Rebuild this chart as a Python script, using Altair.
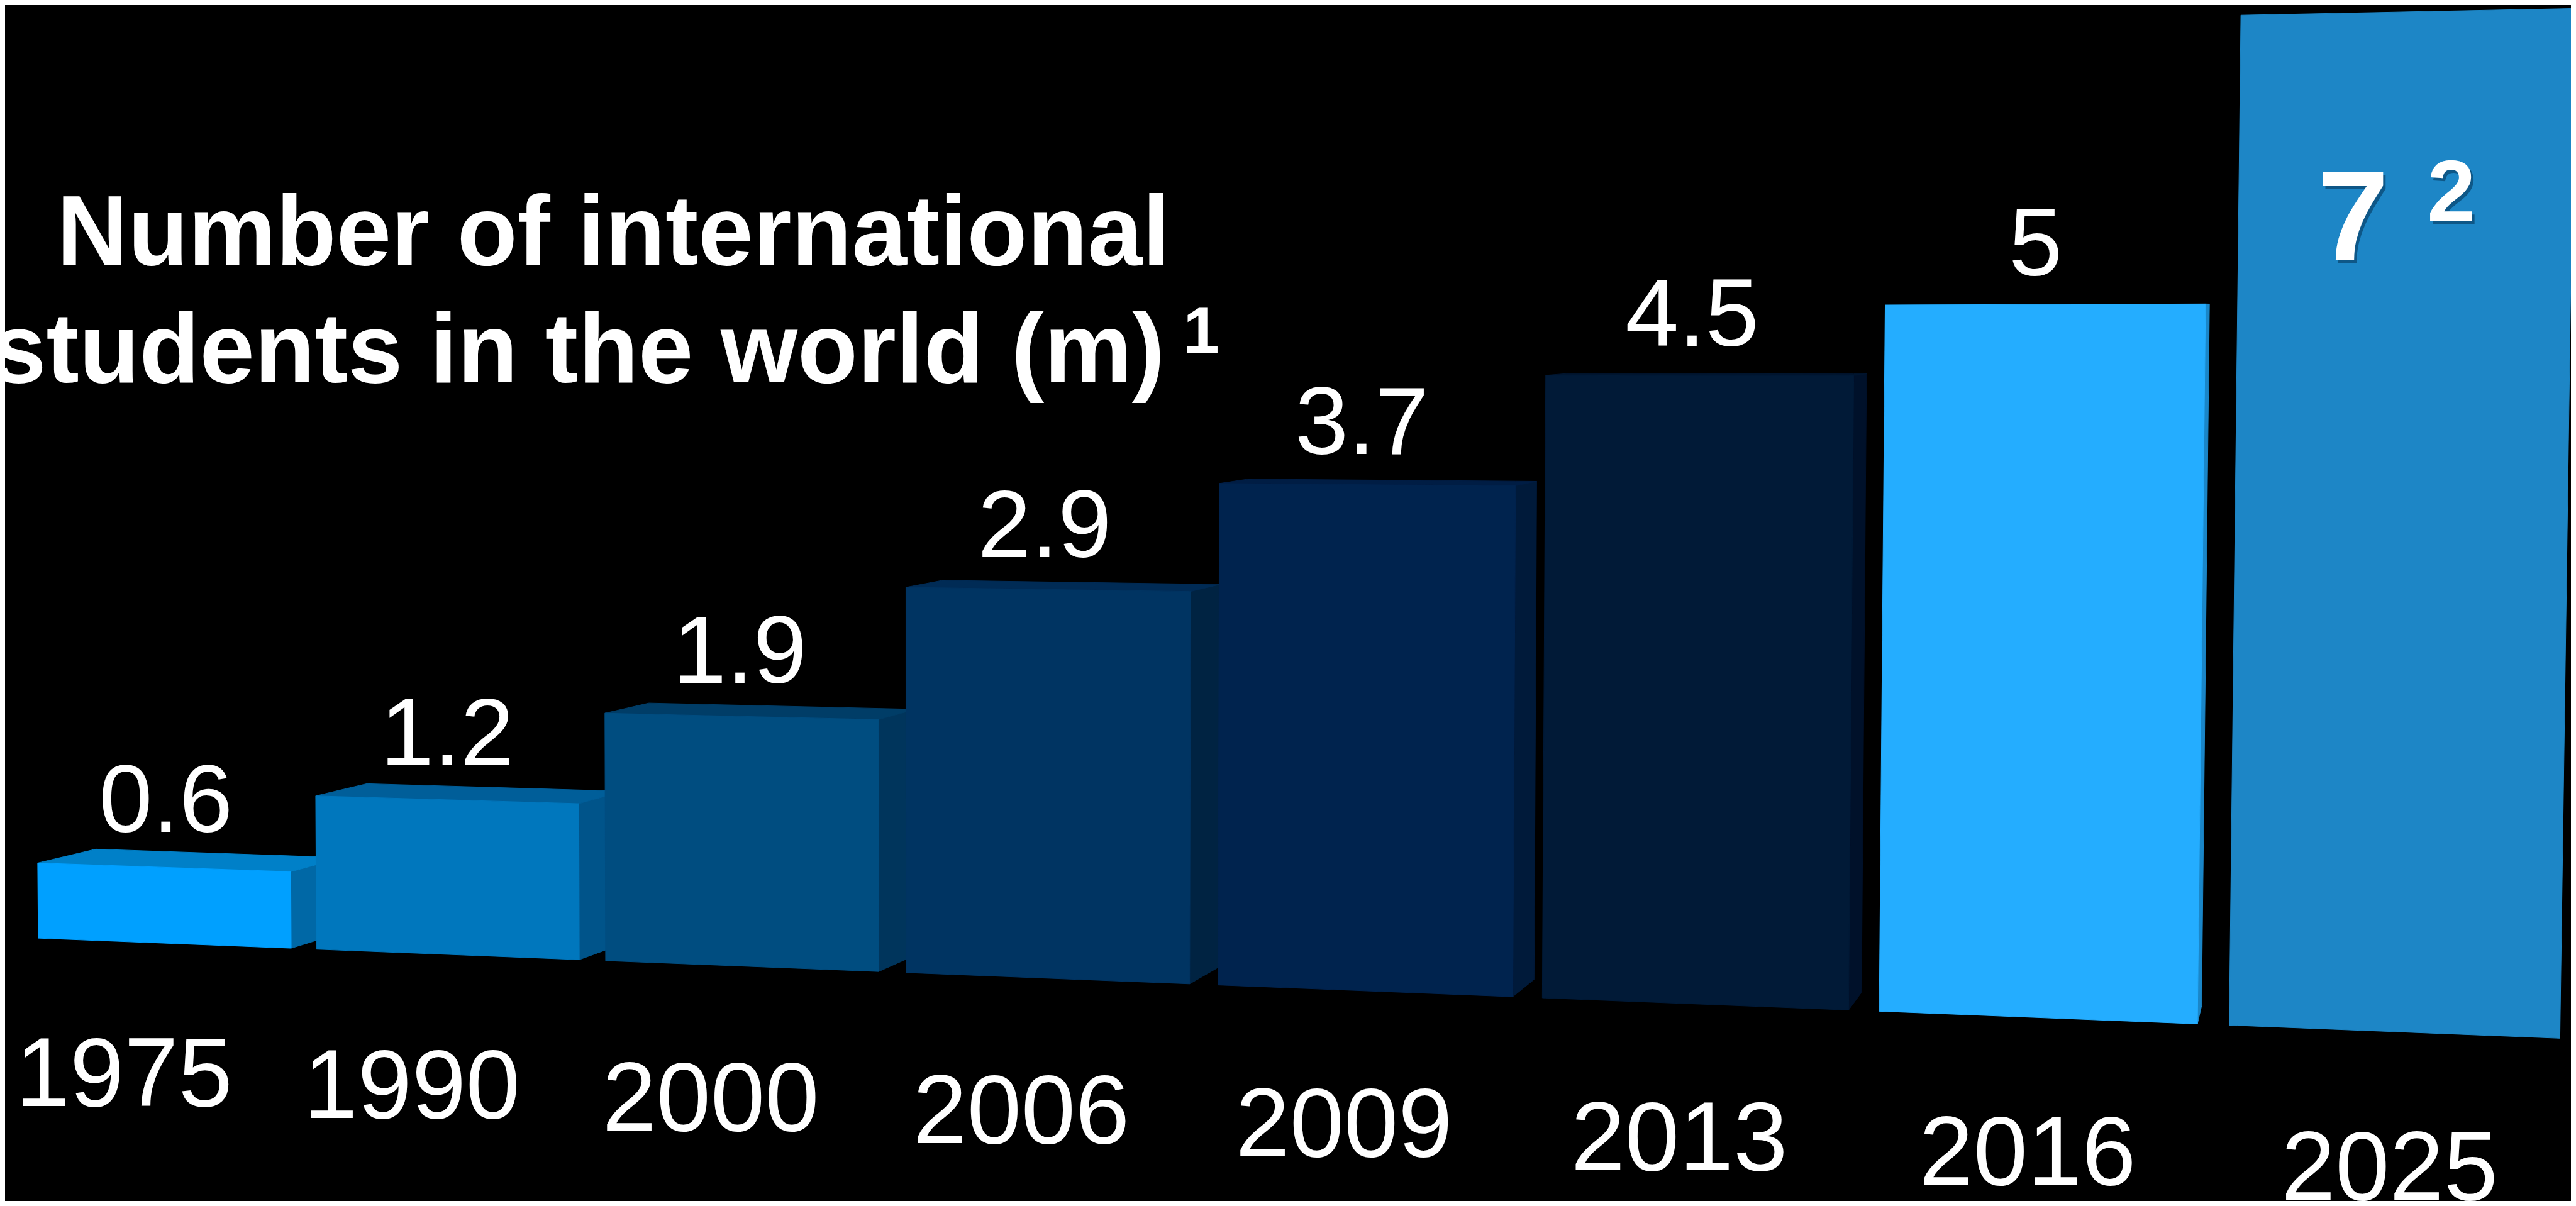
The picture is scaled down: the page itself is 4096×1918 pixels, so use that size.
import altair as alt
import pandas as pd

# ---------------- data ----------------
years = ["1975", "1990", "2000", "2006", "2009", "2013", "2016", "2025"]
values = [0.6, 1.2, 1.9, 2.9, 3.7, 4.5, 5.0, 7.0]
front_colors = ["#00A0FF", "#0077BD", "#004D80", "#003462", "#00234E", "#011A37", "#24ADFF", "#1D86C6"]
top_colors = ["#0080C8", "#005E99", "#003D67", "#002B55", "#001D44", "#00152F", "#1E95DD", "#186FA6"]
side_colors = ["#0068A6", "#00548A", "#00355C", "#002342", "#001A3A", "#00112A", "#1A86C8", "#16679A"]
highlight = [False, False, False, False, False, False, False, True]
value_notes = ["", "", "", "", "", "", "", "2"]
title_lines = ["Number of international", "students in the world (m)"]
title_note = "1"

# ---------------- page / scene layout ----------------
S = 0.981            # drawing scale
PAGE = 8             # page margin
W, H = 4080, 1902    # chart size
FONT = "Liberation Sans"

X0, STEP0, GROW, W0 = 62.0, 451.0, 1.039, 410.0       # perspective spacing of the bars
FLOOR_Y0, FLOOR_SLOPE = 1521.0, 0.0397                 # front floor line
K0, K_SLOPE = 203.3, 0.008615                          # pixels per million, growing with depth
LEAN_X0, LEAN_D = 1500.0, 184000.0                     # slight lean of vertical edges
VPX, VPY, DEPTH = 3830.0, 500.0, 0.025                 # vanishing point and bar depth


def floor_y(x):
    return FLOOR_Y0 + FLOOR_SLOPE * (x - X0)


def px_per_unit(x):
    return K0 + K_SLOPE * (x - X0)


def lift(x, v):
    h = v * px_per_unit(x)
    return (x + (x - LEAN_X0) / LEAN_D * h, floor_y(x) - h)


def recede(p):
    return (p[0] + (VPX - p[0]) * DEPTH, p[1] + (VPY - p[1]) * DEPTH)


def polygon_to_area(pts):
    xs = sorted(set(p[0] for p in pts))
    n = len(pts)
    out = []
    for x in xs:
        ys = []
        for j in range(n):
            (ax, ay), (bx, by) = pts[j], pts[(j + 1) % n]
            lo, hi = min(ax, bx), max(ax, bx)
            if lo - 1e-6 <= x <= hi + 1e-6:
                if abs(bx - ax) < 1e-9:
                    ys += [ay, by]
                else:
                    t = min(max((x - ax) / (bx - ax), 0.0), 1.0)
                    ys.append(ay + t * (by - ay))
        out.append((x, min(ys), max(ys)))
    return out


face_rows, val_rows, hi_rows, note_rows, year_rows = [], [], [], [], []
for i, (yr, v) in enumerate(zip(years, values)):
    xl = X0 + STEP0 * (GROW ** i - 1) / (GROW - 1)
    xr = xl + W0 * GROW ** i
    bl, br = (xl, floor_y(xl)), (xr, floor_y(xr))
    tl, tr = lift(xl, v), lift(xr, v)
    faces = []
    if VPX > xr:
        faces.append(("0", side_colors[i], [tr, br, recede(br), recede(tr)]))
    if VPY < min(tl[1], tr[1]):
        faces.append(("1", top_colors[i], [tl, tr, recede(tr), recede(tl)]))
    faces.append(("2", front_colors[i], [bl, br, tr, tl]))
    for f, col, poly in faces:
        for x, ylo, yhi in polygon_to_area(poly):
            face_rows.append({"key": f"{i}{f}", "col": col, "x": x, "y": ylo, "y2": yhi})

    cx, cy = (tl[0] + tr[0]) / 2, (tl[1] + tr[1]) / 2
    label = f"{v:g}"
    if highlight[i]:
        lx = tl[0] + 0.336 * (tr[0] - tl[0])
        ly = cy + 403
        hi_rows.append({"x": lx, "y": ly, "text": label})
        note_rows.append({"x": lx + 120, "y": ly - 63, "text": value_notes[i]})
    else:
        lx = cx - 0.006 * (cx - 700)
        ly = cy - (47 + 0.011 * (cy - 500))
        val_rows.append({"x": lx, "y": ly, "text": label})

    bc = (bl[0] + br[0]) / 2
    yx = bc - 66 + 0.016 * (bc - 267)
    year_rows.append({"x": yx, "y": 1793 + 0.0414 * (yx - 201), "text": yr})

faces_df = pd.DataFrame(face_rows)
vals_df = pd.DataFrame(val_rows)
hi_df = pd.DataFrame(hi_rows)
note_df = pd.DataFrame(note_rows)
years_df = pd.DataFrame(year_rows)
title1_df = pd.DataFrame([{"x": 994, "y": 429, "text": title_lines[0]}])
title2_df = pd.DataFrame([{"x": 1888, "y": 620, "text": title_lines[1]}])
tnote_df = pd.DataFrame([{"x": 1918, "y": 572, "text": title_note}])

xs = alt.Scale(domain=[PAGE / S, (PAGE + W) / S], nice=False, zero=False)
ys = alt.Scale(domain=[PAGE / S, (PAGE + H) / S], nice=False, zero=False, reverse=True)
X = alt.X("x:Q", scale=xs, axis=None)
Y = alt.Y("y:Q", scale=ys, axis=None)

bars = alt.Chart(faces_df).mark_area(interpolate="linear", opacity=1, strokeWidth=1).encode(
    x=X,
    y=Y,
    y2="y2:Q",
    detail="key:N",
    color=alt.Color("col:N", scale=None),
    stroke=alt.Stroke("col:N", scale=None),
)


def text_layer(df, size, weight="normal", align="center", color="white", dx=0, dy=0, opacity=1):
    return alt.Chart(df).mark_text(
        font=FONT, fontSize=size, fontWeight=weight, align=align, baseline="alphabetic",
        color=color, dx=dx, dy=dy, opacity=opacity,
    ).encode(x=X, y=Y, text="text:N")


layers = [
    bars,
    text_layer(vals_df, 156 * S),
    text_layer(hi_df, 208 * S, "bold", color="#0B4C78", dx=4, dy=5, opacity=0.8),
    text_layer(note_df, 141 * S, "bold", align="left", color="#0B4C78", dx=4, dy=5, opacity=0.8),
    text_layer(hi_df, 208 * S, "bold"),
    text_layer(note_df, 141 * S, "bold", align="left"),
    text_layer(years_df, 158 * S),
    text_layer(title1_df, 160 * S, "bold"),
    text_layer(title2_df, 160 * S, "bold", align="right"),
    text_layer(tnote_df, 105 * S, "bold", align="left"),
]

chart = alt.layer(*layers).properties(
    width=W, height=H, background="#000000", padding=0, autosize=alt.AutoSizeParams(type="none")
).configure_view(stroke=None)

chart.save("out.html", embed_options={"renderer": "svg", "actions": False})
